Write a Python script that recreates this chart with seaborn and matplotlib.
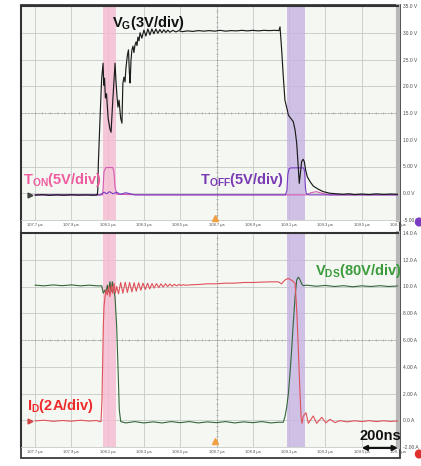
import numpy as np
import matplotlib
matplotlib.use("Agg")
import matplotlib.pyplot as plt
from matplotlib.patches import Rectangle, Circle
import seaborn as sns

# ---------------- time axis / tick labels ----------------
time_ticks = [107.7, 107.9, 108.1, 108.3, 108.5, 108.7, 108.9, 109.1, 109.3, 109.5, 109.7]
time_labels = ["107.7 µs", "107.9 µs", "108.1 µs", "108.3 µs", "108.5 µs", "108.7 µs",
               "108.9 µs", "109.1 µs", "109.3 µs", "109.5 µs", "109.7 µs"]
volt_ticks = [-5, 0, 5, 10, 15, 20, 25, 30, 35]
volt_labels = ["-5.00 V", "0.0 V", "5.00 V", "10.0 V", "15.0 V", "20.0 V", "25.0 V", "30.0 V", "35.0 V"]
amp_ticks = [-2, 0, 2, 4, 6, 8, 10, 12, 14]
amp_labels = ["-2.00 A", "0.0 A", "2.00 A", "4.00 A", "6.00 A", "8.00 A", "10.0 A", "12.0 A", "14.0 A"]

# switching windows (µs)
ton_window = [108.076, 108.146]
toff_window = [109.087, 109.188]

# ---------------- gate voltage V_G ----------------
vg_t = [107.700, 107.740, 107.780, 107.820, 107.860, 107.900, 107.940, 107.980, 108.020, 108.043,
        108.046, 108.049, 108.058, 108.067, 108.075, 108.079, 108.083, 108.088, 108.094, 108.103,
        108.113, 108.119, 108.128, 108.141, 108.146, 108.152, 108.157, 108.163, 108.172, 108.179,
        108.184, 108.190, 108.196, 108.201, 108.209, 108.215, 108.220, 108.224, 108.229, 108.234,
        108.240, 108.245, 108.251, 108.257, 108.262, 108.267, 108.273, 108.279, 108.289, 108.300,
        108.311, 108.322, 108.333, 108.344, 108.355, 108.366, 108.377, 108.388, 108.399, 108.410,
        108.421, 108.432, 108.443, 108.460, 108.476, 108.493, 108.510, 108.540, 108.570, 108.600,
        108.630, 108.660, 108.690, 108.720, 108.750, 108.780, 108.810, 108.840, 108.870, 108.900,
        108.930, 108.960, 108.990, 109.020, 109.044, 109.050, 109.059, 109.068, 109.077, 109.090,
        109.096, 109.109, 109.123, 109.133, 109.142, 109.149, 109.156, 109.162, 109.169, 109.177,
        109.184, 109.191, 109.200, 109.215, 109.233, 109.261, 109.288, 109.325, 109.360, 109.397,
        109.430, 109.460, 109.500, 109.540, 109.580, 109.620, 109.660, 109.700]
vg_v = [-0.35, -0.25, -0.40, -0.30, -0.38, -0.28, -0.36, -0.30, -0.38, -0.30,
        0.6, 5.6, 13.7, 21.2, 24.3, 20.2, 21.5, 17.8, 18.6, 14.0,
        12.0, 11.4, 17.0, 24.3, 21.0, 18.0, 16.1, 17.4, 14.0, 13.1,
        20.5, 21.7, 20.8, 23.4, 25.8, 26.8, 22.6, 20.6, 24.9, 26.8,
        27.5, 26.3, 27.7, 28.3, 27.6, 29.2, 28.5, 30.0, 29.0, 30.5,
        29.4, 30.7, 29.6, 30.7, 29.8, 30.7, 29.9, 30.6, 30.0, 30.55,
        30.05, 30.5, 30.1, 30.45, 30.15, 30.4, 30.2, 30.35, 30.25, 30.4,
        30.3, 30.4, 30.3, 30.45, 30.3, 30.4, 30.35, 30.45, 30.35, 30.45,
        30.35, 30.45, 30.4, 30.45, 30.4, 31.1, 26.8, 21.8, 17.4, 15.55,
        14.6, 14.0, 13.4, 11.8, 9.3, 5.6, 1.85, 3.7, 5.9, 6.35,
        5.9, 4.35, 3.1, 2.2, 1.35, 0.75, 0.3, 0.0, -0.1, -0.2,
        -0.1, -0.25, -0.15, -0.25, -0.12, -0.22, -0.15, -0.2]

# ---------------- turn-on gate drive T_ON ----------------
ton_t = [107.700, 108.073, 108.080, 108.090, 108.128, 108.135, 108.141, 108.150, 108.300,
         109.200, 109.220, 109.250, 109.280, 109.320, 109.700]
ton_v = [-0.3, -0.3, 4.0, 4.8, 4.8, 4.0, 1.2, -0.2, -0.3,
         -0.3, 0.1, 0.3, 0.0, -0.3, -0.3]

# ---------------- turn-off gate drive T_OFF ----------------
toff_t = [107.700, 108.060, 108.080, 108.095, 108.110, 108.130, 108.150, 108.170, 108.200, 108.250,
          109.080, 109.088, 109.093, 109.100, 109.110, 109.180, 109.186, 109.190, 109.195, 109.210,
          109.700]
toff_v = [-0.3, -0.3, 0.2, -0.1, 0.3, -0.1, 0.2, -0.2, 0.1, -0.3,
          -0.3, 0.5, 3.5, 4.6, 4.75, 4.75, 4.0, 1.0, -0.1, -0.3,
          -0.3]

# ---------------- drain-source voltage V_DS ----------------
vds_t = [107.700, 107.750, 107.800, 107.850, 107.900, 107.950, 108.000, 108.040, 108.0675, 108.0763,
         108.0857, 108.0912, 108.0983, 108.1039, 108.1132, 108.1187, 108.1259, 108.1336, 108.1408, 108.1501,
         108.1590, 108.1645, 108.1722, 108.200, 108.250, 108.300, 108.350, 108.400, 108.450, 108.500,
         108.550, 108.600, 108.650, 108.700, 108.750, 108.800, 108.850, 108.900, 108.950, 109.000,
         109.040, 109.068, 109.077, 109.087, 109.096, 109.105, 109.114, 109.123, 109.133, 109.142,
         109.151, 109.160, 109.169, 109.178, 109.197, 109.250, 109.300, 109.350, 109.400, 109.450,
         109.500, 109.550, 109.600, 109.650, 109.700]
vds_v = [10.10, 10.05, 10.12, 10.06, 10.12, 10.05, 10.10, 10.05, 10.05, 9.5,
         9.74, 9.5, 10.1, 9.6, 10.36, 9.6, 10.36, 9.74, 9.24, 7.0,
         3.26, 0.77, -0.1, -0.2, -0.1, -0.2, -0.12, -0.2, -0.1, -0.18,
         -0.1, -0.2, -0.12, -0.18, -0.1, -0.2, -0.12, -0.18, -0.1, -0.2,
         -0.15, -0.15, 0.25, 1.0, 2.0, 3.5, 5.25, 7.25, 9.24, 10.5,
         10.7, 10.5, 10.2, 10.06, 10.1, 10.02, 10.08, 10.0, 10.06, 9.98,
         10.05, 10.0, 10.06, 10.0, 10.04]

# ---------------- drain current I_D ----------------
id_t = [107.700, 107.750, 107.800, 107.850, 107.900, 107.950, 108.000, 108.040, 108.055, 108.0636,
        108.0691, 108.0730, 108.0763, 108.0802, 108.0857, 108.0912, 108.0983, 108.1061, 108.1132, 108.1204,
        108.1281, 108.1353, 108.1424, 108.1501, 108.160, 108.172, 108.184, 108.197, 108.209, 108.221,
        108.234, 108.246, 108.258, 108.271, 108.283, 108.295, 108.308, 108.320, 108.332, 108.345,
        108.357, 108.369, 108.382, 108.394, 108.406, 108.419, 108.431, 108.443, 108.456, 108.468,
        108.480, 108.493, 108.505, 108.517, 108.530, 108.550, 108.600, 108.650, 108.700, 108.750,
        108.800, 108.850, 108.900, 108.950, 109.000, 109.040, 109.059, 109.068, 109.083, 109.096,
        109.109, 109.121, 109.133, 109.142, 109.151, 109.160, 109.166, 109.171, 109.178, 109.193,
        109.206, 109.233, 109.252, 109.280, 109.303, 109.325, 109.353, 109.380, 109.420, 109.460,
        109.500, 109.540, 109.580, 109.620, 109.660, 109.700]
id_v = [-0.05, 0.0, -0.08, -0.02, -0.07, 0.0, -0.06, -0.02, -0.1, -0.1,
        1.5, 4.5, 7.0, 8.5, 9.24, 9.74, 9.36, 10.0, 9.24, 10.1,
        9.5, 10.24, 9.5, 10.0, 9.45, 10.30, 9.50, 10.32, 9.55, 10.30,
        9.60, 10.28, 9.65, 10.28, 9.72, 10.25, 9.78, 10.25, 9.82, 10.22,
        9.88, 10.22, 9.92, 10.20, 9.96, 10.20, 10.00, 10.18, 10.02, 10.16,
        10.05, 10.15, 10.07, 10.14, 10.09, 10.12, 10.15, 10.2, 10.2, 10.25,
        10.25, 10.3, 10.3, 10.33, 10.35, 10.35, 10.2, 10.36, 10.54, 10.6,
        10.5, 10.4, 10.24, 8.25, 5.25, 2.0, 0.25, -0.23, 0.3, 0.56,
        -0.23, 0.32, -0.23, 0.22, -0.2, 0.07, -0.18, -0.03, -0.12, -0.04,
        -0.1, -0.03, -0.1, -0.04, -0.09, -0.05]

# ---------------- styling ----------------
sns.set_theme(style="white")
plt.rcParams["font.family"] = ["Liberation Sans", "DejaVu Sans"]
plt.rcParams["mathtext.fontset"] = "custom"
plt.rcParams["mathtext.rm"] = "Liberation Sans:bold"
plt.rcParams["mathtext.it"] = "Liberation Sans:bold"
plt.rcParams["mathtext.bf"] = "Liberation Sans:bold"

W, H = 421, 466
fig = plt.figure(figsize=(W / 100, H / 100), dpi=100)
fig.patch.set_facecolor("white")


def px_box(x0, y0, x1, y1):
    return [x0 / W, 1 - y1 / H, (x1 - x0) / W, (y1 - y0) / H]


fig.add_artist(Rectangle((21 / W, 1 - 458 / H), (400 - 21) / W, (458 - 5) / H,
                         transform=fig.transFigure, fc="white", ec="#3a3a3a",
                         lw=1.3, zorder=-1))

ax_top = fig.add_axes(px_box(21, 6, 398, 220))
ax_bot = fig.add_axes(px_box(21, 233, 398, 447))

BG = "#f5f8f2"
GRID = "#c6cac6"
CENTER = "#a0a0a0"
X_LEFT = 107.7 - 14 / 181.5


def style_axes(ax, yticks, ylabels, ylim, center_y):
    ax.set_facecolor(BG)
    ax.set_xlim(X_LEFT, 109.7)
    ax.set_ylim(*ylim)
    ax.set_xticks(time_ticks)
    ax.set_xticklabels(time_labels, fontsize=3.0, color="#4a4a4a")
    ax.set_yticks(yticks)
    ax.set_yticklabels(ylabels, fontsize=3.5, color="#4a4a4a")
    ax.yaxis.tick_right()
    ax.tick_params(axis="x", length=0, pad=2.0)
    ax.tick_params(axis="y", length=0, pad=3.4)
    ax.grid(True, color=GRID, lw=0.6)
    ax.set_axisbelow(True)
    for side in ("top", "left"):
        ax.spines[side].set_color("#333333")
        ax.spines[side].set_linewidth(1.5)
    ax.spines["bottom"].set_color(GRID)
    ax.spines["bottom"].set_linewidth(0.6)
    ax.spines["right"].set_color("#b8b8b8")
    ax.spines["right"].set_linewidth(3)
    # dotted centre graticule with minor ticks
    ax.axhline(center_y, color=CENTER, lw=0.6, ls=(0, (1.5, 2.5)), zorder=0.8)
    ax.axvline(108.7, color=CENTER, lw=0.6, ls=(0, (1.5, 2.5)), zorder=0.8)
    minor_t = np.linspace(107.7, 109.7, 51)
    ax.plot(minor_t, np.full_like(minor_t, center_y), ls="none", marker="|",
            ms=2.0, mew=0.5, color=CENTER, zorder=0.8)
    minor_y = np.linspace(ylim[0], ylim[1], 41)
    ax.plot(np.full_like(minor_y, 108.7), minor_y, ls="none", marker="_",
            ms=2.0, mew=0.5, color=CENTER, zorder=0.8)
    # switching windows
    ax.axvspan(*ton_window, color="#f4bad2", alpha=0.8, lw=0, zorder=1)
    ax.axvspan(*toff_window, color="#c6b4e2", alpha=0.8, lw=0, zorder=1)


style_axes(ax_top, volt_ticks, volt_labels, (-5, 35), 15)
style_axes(ax_bot, amp_ticks, amp_labels, (-2, 14), 6)


def trace(ax, t, v, color, lw=0.8, z=3):
    sns.lineplot(x=np.array(t), y=np.array(v), ax=ax, color=color, lw=lw,
                 estimator=None, sort=False, legend=False, zorder=z)


# top panel traces
trace(ax_top, ton_t, ton_v, "#d45cb4", z=3)
trace(ax_top, toff_t, toff_v, "#7b3cc4", z=3.5)
trace(ax_top, vg_t, vg_v, "#1c1c1c", lw=0.85, z=4)

# bottom panel traces
trace(ax_bot, vds_t, vds_v, "#33663a", z=3)
trace(ax_bot, id_t, id_v, "#e0505a", z=3.5)

for ax in (ax_top, ax_bot):
    ax.set_xlabel("")
    ax.set_ylabel("")

# channel labels
lab = dict(fontsize=10.5, fontweight="bold", ha="left", va="baseline", zorder=6)
ax_top.text(108.124, 31.1, r"V$_{\mathrm{G}}$(3V/div)", color="#111111", **lab)
ax_top.text(107.634, 1.8, r"T$_{\mathrm{ON}}$(5V/div)", color="#ee5c9f", **lab)
ax_top.text(108.609, 1.8, r"T$_{\mathrm{OFF}}$(5V/div)", color="#7a3ab5", **lab)
ax_bot.text(109.243, 10.86, r"V$_{\mathrm{DS}}$(80V/div)", color="#3b9a3b",
            clip_on=False, **lab)
ax_bot.text(107.656, 0.77, r"I$_{\mathrm{D}}$(2A/div)", color="#ee2b2b", **lab)
ax_bot.text(109.49, -1.48, "200ns", color="#111111", clip_on=False, **lab)
ax_bot.annotate("", xy=(109.70, -2.07), xytext=(109.50, -2.07),
                arrowprops=dict(arrowstyle="<|-|>", color="#111111", lw=1.6,
                                mutation_scale=7, shrinkA=0, shrinkB=0),
                annotation_clip=False, zorder=7)

# trigger and ground indicators
ax_top.plot([108.69], [-4.6], marker="^", ms=4, color="#f0a040", clip_on=False, zorder=6)
ax_bot.plot([108.69], [-1.55], marker="^", ms=4, color="#f0a040", clip_on=False, zorder=6)
ax_top.plot([107.675], [-0.3], marker=">", ms=3.5, color="#444444", clip_on=False, zorder=6)
ax_bot.plot([107.675], [-0.05], marker=">", ms=3.5, color="#d04848", clip_on=False, zorder=6)

fig.add_artist(Circle((419 / W, 1 - 222 / H), 3.5 / W, transform=fig.transFigure,
                      color="#7b3cc4", zorder=5))
fig.add_artist(Circle((419 / W, 1 - 454 / H), 3.5 / W, transform=fig.transFigure,
                      color="#e03030", zorder=5))

fig.savefig("out.png", dpi=100, facecolor="white")
